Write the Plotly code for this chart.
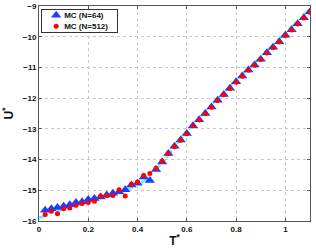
import plotly.graph_objects as go

# Temperatures (reduced units)
T = [0.025, 0.05, 0.075, 0.1, 0.125, 0.15, 0.175, 0.2, 0.225, 0.25,
     0.275, 0.3, 0.325, 0.35, 0.375, 0.4, 0.425, 0.45, 0.475, 0.5,
     0.525, 0.55, 0.575, 0.6, 0.625, 0.65, 0.675, 0.7, 0.725, 0.75,
     0.775, 0.8, 0.825, 0.85, 0.875, 0.9, 0.925, 0.95, 0.975, 1.0,
     1.025, 1.05, 1.075, 1.1]

# MC (N=64)
U_64 = [-15.65, -15.60, -15.56, -15.52, -15.47, -15.40, -15.37, -15.30, -15.27, -15.22,
        -15.15, -15.10, -15.05, -14.98, -14.83, -14.77, -14.57, -14.68, -14.32, -14.08,
        -13.80, -13.57, -13.36, -13.15, -12.90, -12.70, -12.50, -12.29, -12.07, -11.88,
        -11.68, -11.47, -11.28, -11.08, -10.92, -10.73, -10.52, -10.34, -10.16, -9.95,
        -9.77, -9.58, -9.38, -9.19]

# MC (N=512)
U_512 = [-15.79, -15.68, -15.76, -15.60, -15.58, -15.49, -15.43, -15.40, -15.36, -15.19,
         -15.18, -15.17, -14.98, -15.19, -14.80, -14.73, -14.52, -14.45, -14.28, -14.05,
         -13.80, -13.58, -13.37, -13.16, -12.91, -12.71, -12.51, -12.30, -12.08, -11.89,
         -11.69, -11.48, -11.29, -11.09, -10.93, -10.74, -10.53, -10.35, -10.17, -9.96,
         -9.78, -9.59, -9.39, -9.20]

# reference (dashed) curve
T_fit = [0.0, 0.1, 0.2, 0.3, 0.4, 0.45, 0.5, 0.6, 0.7, 0.8, 0.9, 1.0, 1.1]
U_fit = [-15.90, -15.62, -15.38, -15.13, -14.85, -14.55, -14.10, -13.08, -12.22,
         -11.42, -10.66, -9.88, -9.10]

x_ticks = [0, 0.2, 0.4, 0.6, 0.8, 1.0]
x_ticktext = ["0", "0.2", "0.4", "0.6", "0.8", "1"]
y_ticks = [-16, -15, -14, -13, -12, -11, -10, -9]

FONT = "Liberation Sans"

fig = go.Figure()
fig.add_trace(go.Scatter(x=T_fit, y=U_fit, mode="lines",
                         line=dict(color="#6ef2e0", width=2.6, dash="dash"),
                         showlegend=False, hoverinfo="skip"))
fig.add_trace(go.Scatter(x=T, y=U_64, mode="markers", name="MC (N=64)",
                         marker=dict(symbol="triangle-up", size=9, color="#1f3dff",
                                     line=dict(width=0))))
fig.add_trace(go.Scatter(x=T, y=U_512, mode="markers", name="MC (N=512)",
                         marker=dict(symbol="circle", size=5, color="#ff0000",
                                     line=dict(width=0))))

axis_common = dict(
    showline=True, linecolor="#555555", linewidth=1, mirror="ticks",
    ticks="inside", ticklen=3, tickcolor="#555555",
    showgrid=True, gridcolor="#c8c8c8", griddash="dot", gridwidth=1,
    zeroline=False,
    tickfont=dict(family=FONT, size=8, color="#111111", weight="bold"),
)

fig.update_layout(
    width=316, height=250,
    margin=dict(l=39, r=6, t=6, b=29, autoexpand=False),
    paper_bgcolor="white", plot_bgcolor="white",
    font=dict(family=FONT, color="#111111"),
    xaxis=dict(range=[0, 1.1], tickvals=x_ticks, ticktext=x_ticktext,
               automargin=False,
               title=dict(text="T<sup>*</sup>", standoff=4,
                          font=dict(family=FONT, size=12, weight="bold")),
               **axis_common),
    yaxis=dict(range=[-16, -9], tickvals=y_ticks, automargin=False,
               title=dict(text="U<sup>*</sup>", standoff=8,
                          font=dict(family=FONT, size=12, weight="bold")),
               **axis_common),
    legend=dict(x=0.008, y=0.985, xanchor="left", yanchor="top",
                bgcolor="white", bordercolor="#333333", borderwidth=1,
                font=dict(family=FONT, size=8, weight="bold"),
                itemwidth=30, tracegroupgap=0),
    showlegend=True,
)

post = """
document.body.style.margin = '0';
document.body.style.padding = '0';
(function(){
  var gd = document.getElementById('{plot_id}');
  var items = gd.querySelectorAll('.legend .traces');
  var step = 11;
  for (var i = 0; i < items.length; i++) {
    var tr = items[i].getAttribute('transform') || '';
    var m = tr.match(/translate\\(([-\\d.]+)[ ,]+([-\\d.]+)\\)/);
    var x = m ? parseFloat(m[1]) : 0;
    items[i].setAttribute('transform', 'translate(' + (x - 6) + ',' + (6 + i * step) + ')');
    var t = items[i].querySelector('.legendtext');
    if (t) {
      var tx = parseFloat(t.getAttribute('x') || '40');
      t.setAttribute('x', String(tx - 12));
    }
  }
  var bg = gd.querySelector('.legend .bg');
  if (bg) {
    bg.setAttribute('height', String(items.length * step + 1));
    bg.setAttribute('width', '76');
  }
})();
"""

fig.write_html("out.html", post_script=post,
               config={"displayModeBar": False, "staticPlot": True})
